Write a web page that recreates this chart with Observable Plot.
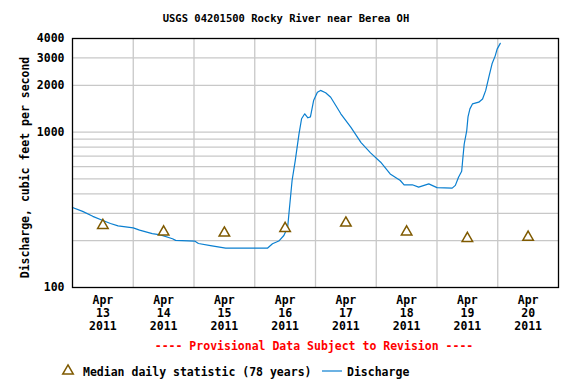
<!DOCTYPE html>
<html><head><meta charset="utf-8">
<script src="https://cdn.jsdelivr.net/npm/d3@7"></script>
<script src="https://cdn.jsdelivr.net/npm/@observablehq/plot@0.6"></script>
<style>
body{margin:0;background:#fff}
#chart svg{font-family:"DejaVu Sans Mono",monospace;font-weight:bold}
</style>
</head><body><div id="chart"></div>
<script>
// Discharge series (UTC timestamps, cubic feet per second)
const dischargeTimes = [
  "2011-04-13T00:00","2011-04-13T04:00","2011-04-13T08:00","2011-04-13T12:00","2011-04-13T15:00","2011-04-13T18:00",
  "2011-04-14T00:00","2011-04-14T02:30","2011-04-14T07:30","2011-04-14T10:45","2011-04-14T15:30","2011-04-14T16:45",
  "2011-04-15T00:15","2011-04-15T01:45","2011-04-15T06:30","2011-04-15T12:30",
  "2011-04-16T05:00","2011-04-16T07:00","2011-04-16T09:30","2011-04-16T11:30","2011-04-16T13:00","2011-04-16T13:30",
  "2011-04-16T14:45","2011-04-16T16:00","2011-04-16T17:30","2011-04-16T18:30","2011-04-16T19:45","2011-04-16T21:00",
  "2011-04-16T22:00","2011-04-16T23:15",
  "2011-04-17T00:45","2011-04-17T02:00","2011-04-17T04:00","2011-04-17T06:00","2011-04-17T08:30","2011-04-17T10:00",
  "2011-04-17T14:00","2011-04-17T18:00","2011-04-17T21:45",
  "2011-04-18T01:45","2011-04-18T05:30","2011-04-18T09:30","2011-04-18T11:00","2011-04-18T14:15","2011-04-18T16:45",
  "2011-04-18T20:45",
  "2011-04-19T00:00","2011-04-19T06:00","2011-04-19T07:15","2011-04-19T08:30","2011-04-19T09:45","2011-04-19T10:15",
  "2011-04-19T10:45","2011-04-19T11:45","2011-04-19T12:15","2011-04-19T13:00","2011-04-19T14:00","2011-04-19T16:30",
  "2011-04-19T18:00","2011-04-19T19:15","2011-04-19T20:30","2011-04-19T21:45","2011-04-19T23:00","2011-04-19T23:45",
  "2011-04-20T01:00"
];
const dischargeValues = [
  327,309,287,270,258,249,
  242,234,222,218,206,201,
  199,192,186,179,
  179,191,199,216,244,298,
  488,656,978,1218,1311,1236,
  1252,1594,
  1806,1854,1790,1675,1439,1311,
  1071,856,735,
  640,538,488,458,458,442,
  464,
  439,436,454,512,560,689,
  838,1023,1252,1410,1517,1557,
  1634,1854,2264,2751,3093,3416,
  3722
];
// Median daily statistic (78 years), plotted at noon of each day
const medianDays = ["2011-04-13","2011-04-14","2011-04-15","2011-04-16","2011-04-17","2011-04-18","2011-04-19","2011-04-20"];
const medianValues = [251,228,224,240,260,228,207,211];
// Axis ticks and gridlines
const yTickLabels = [100,1000,2000,3000,4000];
const yGridValues = [200,300,400,500,600,700,800,900,1000,2000,3000];
const xGridDays = ["2011-04-14","2011-04-15","2011-04-16","2011-04-17","2011-04-18","2011-04-19","2011-04-20"];
const xDomain = ["2011-04-13","2011-04-21"];

const titleText = "USGS 04201500 Rocky River near Berea OH";
const yLabelText = "Discharge, cubic feet per second";
const provisionalText = "---- Provisional Data Subject to Revision ----";
const legendMedian = "Median daily statistic (78 years)";
const legendDischarge = "Discharge";

const utc = s => new Date(s.length === 10 ? s + "T00:00Z" : s + "Z");
const noon = s => new Date(s + "T12:00Z");
const months = ["Jan","Feb","Mar","Apr","May","Jun","Jul","Aug","Sep","Oct","Nov","Dec"];

const discharge = dischargeTimes.map((t, i) => ({date: utc(t), value: dischargeValues[i]}));
const medians = medianDays.map((d, i) => ({date: noon(d), value: medianValues[i]}));

const lineColor = "#0a7fd0";
const medianColor = "#7f5a00";
const gridColor = "#c8c8c8";

const chart = Plot.plot({
  width: 576,
  height: 384,
  marginTop: 38,
  marginBottom: 97,
  marginLeft: 72,
  marginRight: 18,
  style: {fontFamily: "DejaVu Sans Mono, monospace", fontSize: "11.5px", fontWeight: "bold", background: "white", color: "black"},
  x: {type: "utc", domain: xDomain.map(utc)},
  y: {type: "log", domain: [100, 4000]},
  marks: [
    Plot.gridX(xGridDays.map(utc), {stroke: gridColor, strokeOpacity: 1, strokeWidth: 1.3}),
    Plot.gridY(yGridValues, {stroke: gridColor, strokeOpacity: 1, strokeWidth: 1.3}),
    Plot.axisX(medianDays.map(noon), {
      tickSize: 0, tickPadding: 8, label: null, lineHeight: 1.1,
      tickFormat: d => `${months[d.getUTCMonth()]}\n${d.getUTCDate()}\n${d.getUTCFullYear()}`
    }),
    Plot.axisY(yTickLabels, {tickSize: 0, tickPadding: 8, label: null, tickFormat: d => String(d)}),
    Plot.line(discharge, {x: "date", y: "value", stroke: lineColor, strokeWidth: 1.2}),
    Plot.dot(medians, {x: "date", y: "value", symbol: "triangle", r: 3.9, stroke: medianColor, strokeWidth: 1.5, fill: "white"}),
    Plot.frame({stroke: "black", strokeWidth: 1.3})
  ]
});

document.getElementById("chart").appendChild(chart);

const svg = d3.select(chart);
const font = "DejaVu Sans Mono, monospace";
const addText = (x, y, txt, anchor, size, fill, transform) => {
  const t = svg.append("text").attr("text-anchor", anchor)
    .attr("font-family", font).attr("font-size", size).attr("font-weight", "bold").attr("fill", fill).text(txt);
  if (transform) t.attr("transform", transform); else t.attr("x", x).attr("y", y);
  return t;
};
addText(286, 22, titleText, "middle", "10.5px", "black");
addText(0, 0, yLabelText, "middle", "11.5px", "black", "translate(29,167.5) rotate(-90)");
addText(314, 350, provisionalText, "middle", "11.5px", "#ff0000");
// legend
svg.append("path").attr("d", d3.symbol(d3.symbolTriangle, 48)()).attr("transform", "translate(68,371)")
  .attr("fill", "white").attr("stroke", medianColor).attr("stroke-width", 1.5);
addText(83, 375.5, legendMedian, "start", "11.5px", "black");
svg.append("line").attr("x1", 322).attr("x2", 342).attr("y1", 371).attr("y2", 371)
  .attr("stroke", lineColor).attr("stroke-width", 1.2);
addText(347, 375.5, legendDischarge, "start", "11.5px", "black");
</script>
</body></html>
